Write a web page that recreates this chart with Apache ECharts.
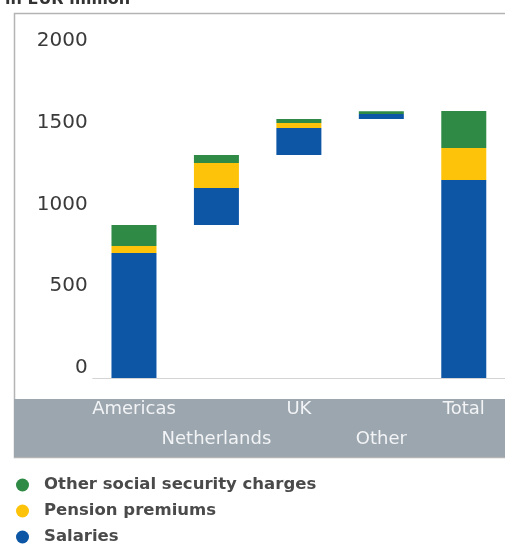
<!DOCTYPE html>
<html>
<head>
<meta charset="utf-8">
<script src="https://cdn.jsdelivr.net/npm/echarts@6/dist/echarts.min.js"></script>
<style>
  html, body { margin: 0; padding: 0; background: #fff; }
  #chart { width: 505px; height: 544px; }
</style>
</head>
<body>
<div id="chart"></div>
<script>
// values in EUR million
const categories = ['Americas', 'Netherlands', 'UK', 'Other', 'Total'];
const salaries = [765, 226, 165, 30, 1211];
const pension = [43, 153, 31, 0, 196];
const otherSocial = [128, 49, 24, 18, 226];
const yTicks = [0, 500, 1000, 1500, 2000];

// invisible offset so each region starts where the previous one ended
const offset = [];
let running = 0;
categories.forEach((c, i) => {
  if (c === 'Total') { offset.push(0); return; }
  offset.push(running);
  running += salaries[i] + pension[i] + otherSocial[i];
});

const chart = echarts.init(document.getElementById('chart'));

const option = {
  animation: false,
  title: {
    text: 'in EUR million',
    left: 0,
    top: -13,
    textStyle: { fontFamily: 'DejaVu Sans', fontSize: 16, fontWeight: 'bold', color: '#333' }
  },
  graphic: [
    {
      type: 'rect',
      shape: { x: 14.5, y: 13.5, width: 520, height: 444 },
      style: { fill: 'none', stroke: '#b4b4b4', lineWidth: 1.5 },
      z: 0
    },
    {
      type: 'rect',
      shape: { x: 14, y: 399, width: 500, height: 58 },
      style: { fill: '#9ca6af' },
      z: 0
    }
  ],
  legend: {
    orient: 'vertical',
    left: 16,
    top: 476,
    height: 80,
    padding: 0,
    icon: 'circle',
    itemWidth: 13,
    itemHeight: 13,
    itemGap: 8,
    data: ['Other social security charges', 'Pension premiums', 'Salaries'],
    textStyle: {
      fontFamily: 'DejaVu Sans', fontSize: 16.5, fontWeight: 'bold',
      color: '#4a4a4a', lineHeight: 18, padding: [0, 0, 0, 10]
    }
  },
  grid: { left: 92.75, right: -15, top: 51, bottom: 166, containLabel: false },
  xAxis: {
    type: 'category',
    data: categories,
    axisLine: { show: true, lineStyle: { color: '#d4d4d4', width: 1 } },
    axisTick: { show: false },
    axisLabel: {
      interval: 0,
      margin: 16,
      verticalAlign: 'top',
      lineHeight: 30,
      fontFamily: 'DejaVu Sans',
      fontSize: 18,
      color: '#f2f4f6',
      formatter: (v, i) => (i % 2 === 1 ? '\n' + v : v)
    }
  },
  yAxis: {
    type: 'value',
    min: yTicks[0],
    max: yTicks[yTicks.length - 1],
    interval: yTicks[1] - yTicks[0],
    axisLine: { show: false },
    axisTick: { show: false },
    splitLine: { show: false },
    axisLabel: {
      margin: 5,
      verticalAlign: 'bottom',
      fontFamily: 'DejaVu Sans',
      fontSize: 20,
      color: '#3a3a3a',
      formatter: v => String(v)
    }
  },
  series: [
    {
      name: 'offset',
      type: 'bar',
      stack: 'w',
      barWidth: 45,
      itemStyle: { color: 'transparent' },
      silent: true,
      data: offset
    },
    {
      name: 'Salaries',
      type: 'bar',
      stack: 'w',
      barWidth: 45,
      itemStyle: { color: '#0d56a6' },
      data: salaries
    },
    {
      name: 'Pension premiums',
      type: 'bar',
      stack: 'w',
      barWidth: 45,
      itemStyle: { color: '#fdc30a' },
      data: pension
    },
    {
      name: 'Other social security charges',
      type: 'bar',
      stack: 'w',
      barWidth: 45,
      itemStyle: { color: '#2f8a46' },
      data: otherSocial
    }
  ]
};

chart.setOption(option);
</script>
</body>
</html>
